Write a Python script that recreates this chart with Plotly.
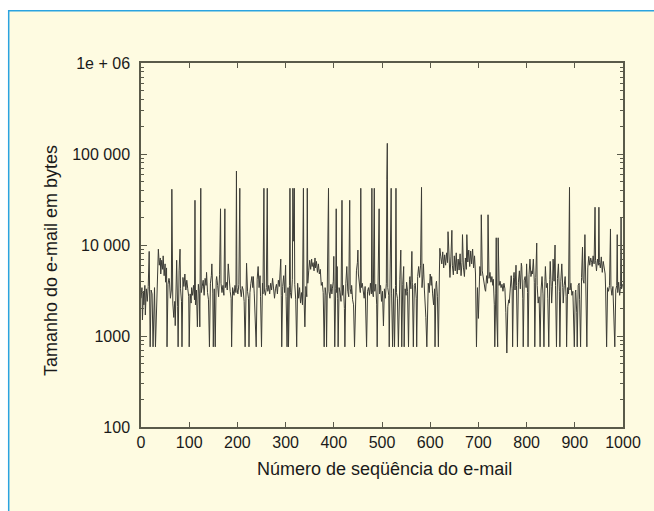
import plotly.graph_objects as go

pairs = [
(0,2600),(2,3400),(3,1500),(5,3100),(6,2200),(8,3600),(9,1700),(11,3300),(13,2400),(15,3500),(17,8500),(18,2800),(19,760),(21,3200),(23,2900),(25,760),(26,1100),(28,3400),(30,760),(31,1200),(33,3800),(35,5200),(36,9000),(38,6000),(40,7200),(41,4800),(43,6800),(45,5400),(46,7600),(48,4600),(50,6200),(51,3900),(53,5600),(54,760),(56,3700),(58,4300),(59,4100),(61,2600),(63,3200),(64,41000),(65,2800),(66,2300),(68,1600),(70,2400),(71,1300),(73,4200),(74,6800),(76,2100),(77,760),(79,5200),(81,9000),(82,3300),(84,2400),(85,760),(87,4400),(89,3500),(91,4800),(93,3200),(95,4100),(97,3300),(99,2700),(100,760),(102,2900),(104,2300),(105,3400),(107,2800),(109,3600),(111,2500),(112,31000),(113,2200),(115,3200),(117,1260),(119,3700),(121,2900),(122,1260),(124,42000),(125,3000),(127,3500),(129,4100),(131,2800),(133,4300),(135,3600),(136,5000),(138,3000),(140,2500),(142,760),(144,3800),(146,4600),(147,6200),(149,2900),(150,760),(152,3300),(154,760),(156,4100),(157,4500),(159,3600),(161,2700),(163,4700),(165,25000),(166,3800),(168,3000),(170,3600),(172,2800),(174,25000),(175,3400),(177,3900),(179,3200),(181,6200),(183,3600),(185,3100),(187,2600),(188,760),(190,3400),(191,3200),(193,2800),(195,3600),(197,3000),(198,65000),(199,3400),(201,2900),(203,3700),(205,42000),(206,3300),(208,2700),(210,3500),(212,3200),(214,2400),(216,760),(218,4000),(219,6300),(221,3100),(223,2600),(224,760),(226,3000),(228,3800),(230,4500),(232,3400),(233,4500),(235,2900),(237,1700),(239,760),(241,4200),(243,5800),(245,3400),(247,4600),(248,2700),(250,760),(252,3800),(253,2900),(255,42000),(256,3200),(258,2800),(260,3400),(262,42000),(263,3100),(265,3600),(267,2900),(269,3800),(271,3200),(273,4300),(275,3500),(277,2600),(279,3300),(281,3700),(283,2900),(285,4100),(287,3500),(289,4800),(290,7000),(291,2800),(292,760),(294,3500),(296,4600),(298,3000),(300,6000),(301,2700),(303,760),(305,3400),(306,760),(308,3600),(309,42000),(310,3000),(312,2600),(314,4200),(315,42000),(317,11000),(318,42000),(319,3700),(321,2500),(323,760),(325,3800),(327,2600),(329,3400),(331,2300),(333,3000),(335,2200),(337,42000),(338,2900),(340,1260),(342,3500),(344,2700),(345,42000),(346,3800),(348,5200),(350,6800),(352,5400),(354,7000),(355,5800),(357,6400),(359,5200),(361,7200),(362,5600),(364,6600),(366,5000),(368,6200),(370,4800),(372,5400),(374,3600),(376,3900),(378,3000),(380,760),(382,3400),(384,2800),(385,760),(387,3200),(389,42000),(390,3100),(392,2600),(394,3700),(396,2900),(397,3300),(399,4000),(400,7500),(401,3000),(402,760),(404,3300),(405,25000),(406,3000),(407,5800),(408,2600),(409,760),(411,3400),(413,3000),(415,2400),(417,31000),(418,2800),(420,3600),(422,2000),(423,760),(425,3800),(427,5800),(429,3100),(431,2700),(433,31000),(434,3300),(436,2900),(437,3600),(439,2500),(441,2200),(443,760),(445,3400),(447,5200),(449,6400),(450,8800),(451,4800),(453,3500),(455,3000),(456,42000),(457,3400),(459,3800),(461,3100),(463,2600),(465,3500),(467,1500),(468,760),(470,3100),(472,3400),(474,2800),(476,3800),(478,2900),(479,42000),(480,3200),(482,2700),(484,42000),(485,3100),(487,3700),(489,2200),(490,760),(492,3200),(494,25000),(495,2900),(497,3600),(499,2400),(501,3100),(503,1290),(505,3300),(507,2600),(509,3800),(510,52000),(511,131000),(512,3400),(514,2800),(515,760),(517,3600),(519,42000),(520,2900),(522,760),(524,3300),(526,760),(528,3600),(529,42000),(530,3000),(532,2600),(534,760),(536,3500),(537,4200),(539,8800),(540,3100),(541,760),(543,3700),(545,5800),(546,760),(548,3300),(550,2800),(551,3900),(553,3100),(555,760),(557,4200),(558,4500),(560,3300),(562,8500),(563,3900),(565,760),(567,3600),(569,3800),(571,2600),(572,760),(574,4500),(576,5800),(578,4400),(580,6000),(582,43000),(583,3400),(585,4700),(586,6200),(588,3200),(589,2700),(591,1600),(593,760),(595,3700),(596,3800),(598,3000),(600,4800),(602,3600),(603,4500),(605,2900),(607,2200),(609,3300),(610,760),(612,3700),(613,4000),(615,2700),(617,760),(619,4800),(620,9200),(622,7400),(624,6200),(626,8400),(628,5600),(630,7800),(632,6000),(634,8200),(636,6400),(637,14000),(639,5800),(641,4400),(643,7400),(645,14500),(646,6000),(648,4700),(650,7600),(652,5200),(654,8200),(656,4800),(658,7000),(660,5300),(662,8000),(664,4600),(666,6400),(667,13000),(669,5600),(671,4500),(673,7200),(675,5400),(676,13000),(678,6500),(680,8800),(682,5800),(684,8600),(686,6200),(688,9000),(690,5600),(692,7600),(694,4800),(696,760),(698,3400),(700,1560),(702,4400),(703,5800),(705,4600),(706,21500),(708,5200),(710,4200),(712,3700),(714,3200),(715,3100),(717,4600),(719,3800),(720,21500),(722,4300),(724,5000),(726,3900),(728,4500),(730,3600),(731,4200),(733,2200),(734,760),(736,2900),(737,12000),(738,1700),(740,760),(741,12000),(743,3600),(745,4000),(747,3400),(749,3700),(751,3100),(753,3800),(755,3300),(757,1800),(759,650),(761,2100),(763,2500),(764,2300),(766,4000),(768,4600),(770,3300),(771,760),(773,4400),(774,5000),(776,3200),(778,6000),(779,3600),(781,760),(783,3900),(785,5200),(787,3300),(789,6300),(790,5800),(792,2600),(793,760),(795,4100),(797,4500),(799,3400),(800,6200),(802,3000),(803,760),(805,4700),(807,7000),(809,4500),(811,5200),(812,4800),(814,7000),(816,3900),(817,760),(819,4400),(821,10500),(822,3600),(824,2300),(826,2700),(828,760),(830,3200),(832,4500),(834,2900),(836,760),(838,4000),(839,5800),(841,3400),(843,3800),(844,2600),(846,760),(848,4200),(849,6600),(851,3500),(852,2300),(854,4100),(855,7000),(857,4000),(859,10000),(860,3600),(862,760),(864,4300),(866,6200),(868,3100),(869,760),(871,4000),(873,6200),(875,3400),(876,2300),(878,3600),(880,4500),(882,2700),(883,760),(885,3400),(887,2900),(889,43000),(890,3200),(892,3800),(894,2800),(896,3100),(897,2200),(899,760),(901,3000),(902,3200),(904,1800),(905,760),(907,3600),(909,3800),(910,2500),(912,760),(914,4400),(916,9500),(917,4200),(919,3800),(921,13000),(922,4500),(924,2600),(925,760),(927,5600),(929,7500),(931,6000),(933,7200),(935,6400),(936,5800),(938,7600),(940,6200),(942,26000),(943,6800),(945,5200),(947,7000),(949,6000),(950,26000),(951,6400),(953,5600),(955,7400),(957,5000),(959,6600),(961,5400),(963,4800),(964,3200),(966,760),(968,3400),(970,3100),(972,3600),(974,15000),(975,3400),(977,2800),(979,3500),(981,1800),(983,760),(985,3200),(987,3600),(988,13000),(989,3000),(991,3900),(993,2800),(995,3500),(996,20000),(997,3300),(999,3700),
]
email_seq = [p[0] for p in pairs]
email_bytes = [p[1] for p in pairs]

x_ticks = [0, 100, 200, 300, 400, 500, 600, 700, 800, 900, 1000]
y_tick_vals = [100, 1000, 10000, 100000, 1000000]
y_tick_text = ["100", "1000", "10 000", "100 000", "1e + 06"]
y_minor_vals = [m * d for d in (100, 1000, 10000, 100000) for m in range(2, 10)]

FONT = "Liberation Sans, Arial, sans-serif"
CREAM = "#FEFBE1"
AX = "#5a5a4a"

fig = go.Figure()
fig.add_trace(go.Scatter(x=email_seq, y=email_bytes, mode="lines",
                         line=dict(color="#3c3c36", width=1), showlegend=False))

W, H = 654, 511
L, R, T, B = 141, 654 - 623, 63, 511 - 427
pw, ph = W - L - R, H - T - B

def px2paper_x(px):
    return (px - L) / pw

def px2paper_y(py):
    return (H - B - py) / ph

fig.update_layout(
    width=W, height=H,
    margin=dict(l=L, r=R, t=T, b=B),
    paper_bgcolor="white", plot_bgcolor=CREAM,
    font=dict(family=FONT, size=16, color="#1a1a1a"),
    xaxis=dict(range=[0, 1000], tickvals=x_ticks, ticks="inside", ticklen=5,
               tickcolor=AX, showline=True, linecolor=AX, linewidth=1.5,
               mirror="ticks", showgrid=False, zeroline=False,
               tickfont=dict(size=16), ticklabelstandoff=0),
    yaxis=dict(type="log", range=[2, 6], tickvals=y_tick_vals, ticktext=y_tick_text,
               ticks="inside", ticklen=6, tickcolor=AX, showline=True,
               linecolor=AX, linewidth=1.5, mirror="ticks", showgrid=False,
               zeroline=False, tickfont=dict(size=16), ticklabelstandoff=6,
               minor=dict(tickvals=y_minor_vals, ticks="inside", ticklen=3,
                          tickcolor=AX, showgrid=False)),
    shapes=[dict(type="rect", xref="paper", yref="paper",
                 x0=px2paper_x(8.7), x1=px2paper_x(720),
                 y0=px2paper_y(600), y1=px2paper_y(10.7),
                 line=dict(color="#2aa3e0", width=1.5), fillcolor=CREAM,
                 layer="below")],
    annotations=[
        dict(text="Número de seqüência do e-mail", xref="paper", yref="paper",
             x=px2paper_x(384), y=px2paper_y(469), showarrow=False,
             font=dict(size=18), xanchor="center", yanchor="middle"),
        dict(text="Tamanho do e-mail em bytes", xref="paper", yref="paper",
             x=px2paper_x(51), y=px2paper_y(261), showarrow=False, textangle=-90,
             font=dict(size=18), xanchor="center", yanchor="middle"),
    ],
)

fig.write_html("out.html", config={"displayModeBar": False},
               post_script="document.body.style.margin='0';document.body.style.overflow='hidden';")
